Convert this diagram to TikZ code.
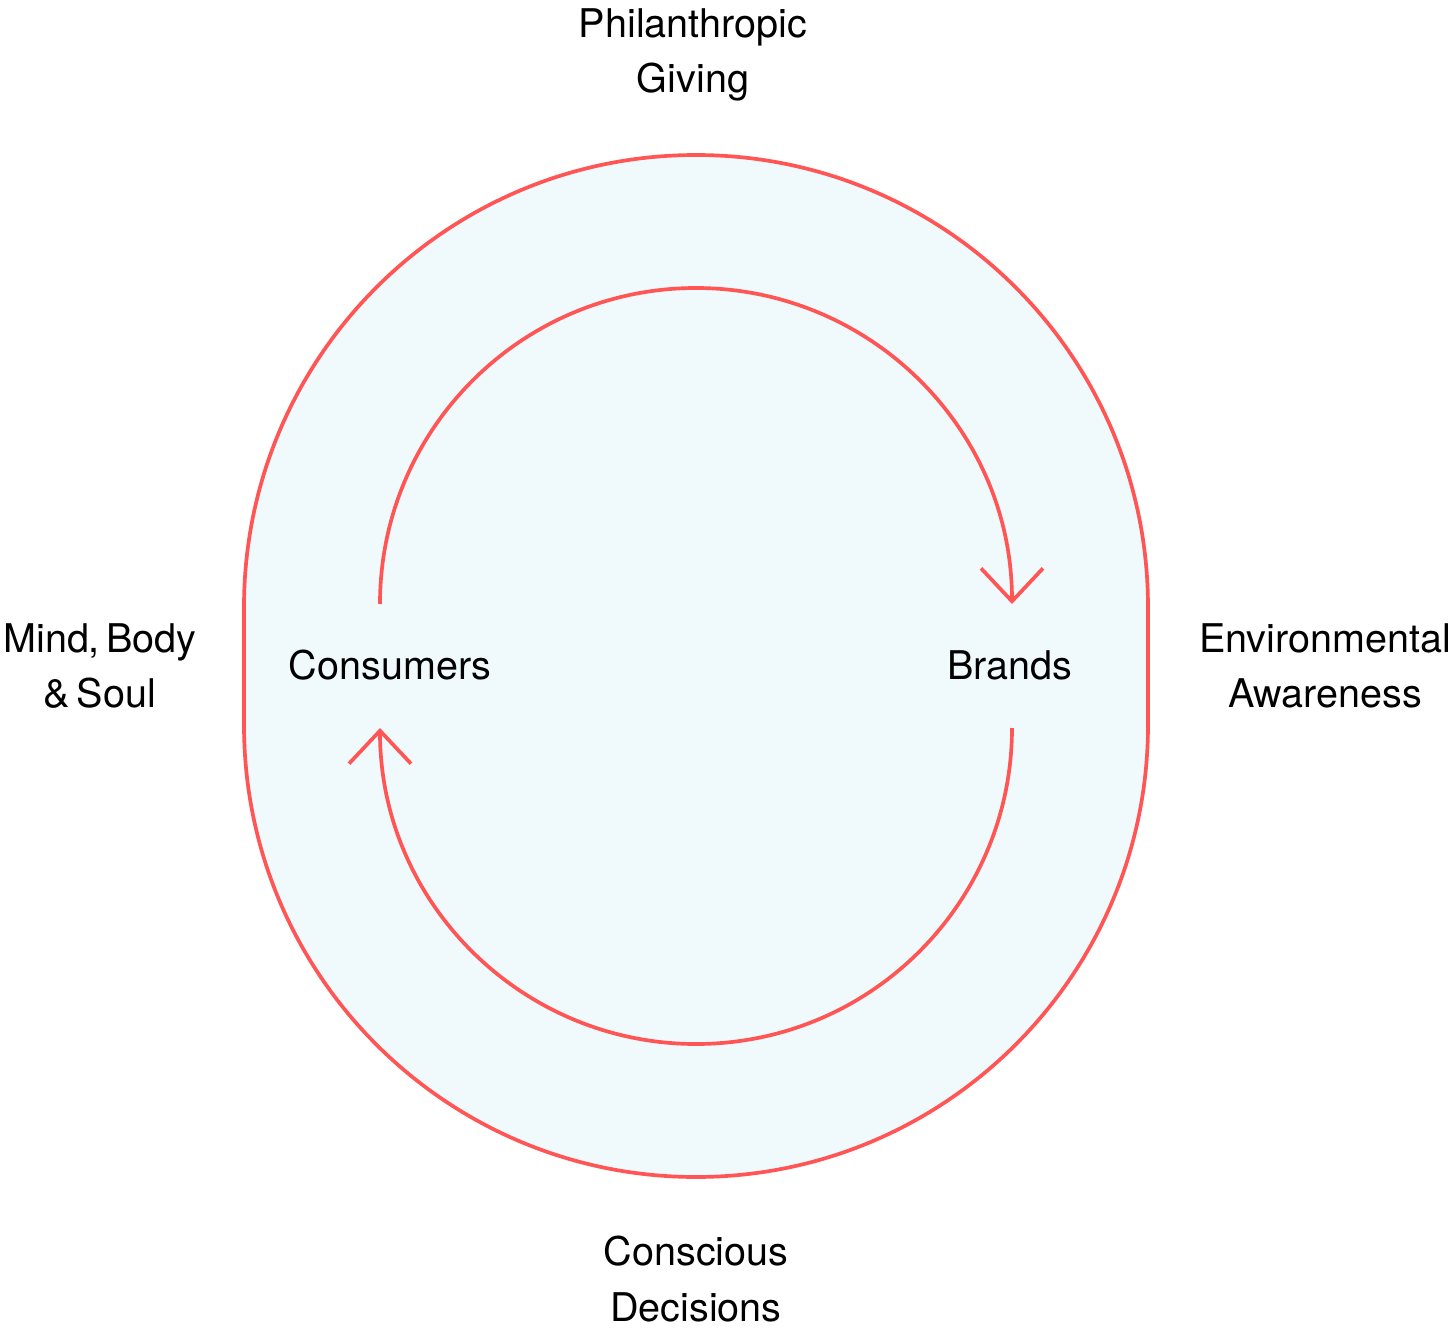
\documentclass[tikz,border=0pt]{standalone}
\usepackage{fontspec}
\setmainfont{TeX Gyre Heros}
\usetikzlibrary{positioning, arrows.meta, calc}
\usepackage{xcolor}
\definecolor{loopred}{HTML}{FF5555}
\definecolor{loopfill}{HTML}{F0FAFD}

\tikzset{
  label text/.style={align=center, inner sep=0pt, font=\fontsize{22.5}{31.4}\selectfont},
  flow/.style={draw=loopred, line width=2.1pt, -{Straight Barb[length=0.66cm, width=1.24cm, line width=2.1pt]}}
}

\begin{document}
\begin{tikzpicture}
    \useasboundingbox (-13.92,-13.32) rectangle (15.16,13.32);
    % outer band
    \draw[draw=loopred, fill=loopfill, line width=2.1pt]
      (-9.04,1.18) arc[start angle=180, end angle=0, radius=9.04]
      -- (9.04,-1.18) arc[start angle=0, end angle=-180, radius=9.04] -- cycle;
    % actors
    \node[label text] (consumers) at (-6.12,0.02) {Consumers};
    \node[label text] (brands) at (6.28,0.02) {Brands};
    % outer labels
    \node[label text] (giving) at (-0.06,12.22) {Philanthropic\\Giving};
    \node[label text] (mind) at (-11.92,0.0) {Mind,\,Body\\\&\,Soul};
    \node[label text] (env) at (12.58,0.0) {Environmental\\Awareness};
    \node[label text] (decisions) at (0,-12.26) {Conscious\\Decisions};
    % loop ends
    \coordinate (consOut) at (-6.32,1.24);
    \coordinate (brandsOut) at (6.32,-1.24);
    \draw[flow] (consOut) arc[start angle=180, end angle=0, radius=6.32];
    \draw[flow] (brandsOut) arc[start angle=0, end angle=-180, radius=6.32];
  \end{tikzpicture}
\end{document}
